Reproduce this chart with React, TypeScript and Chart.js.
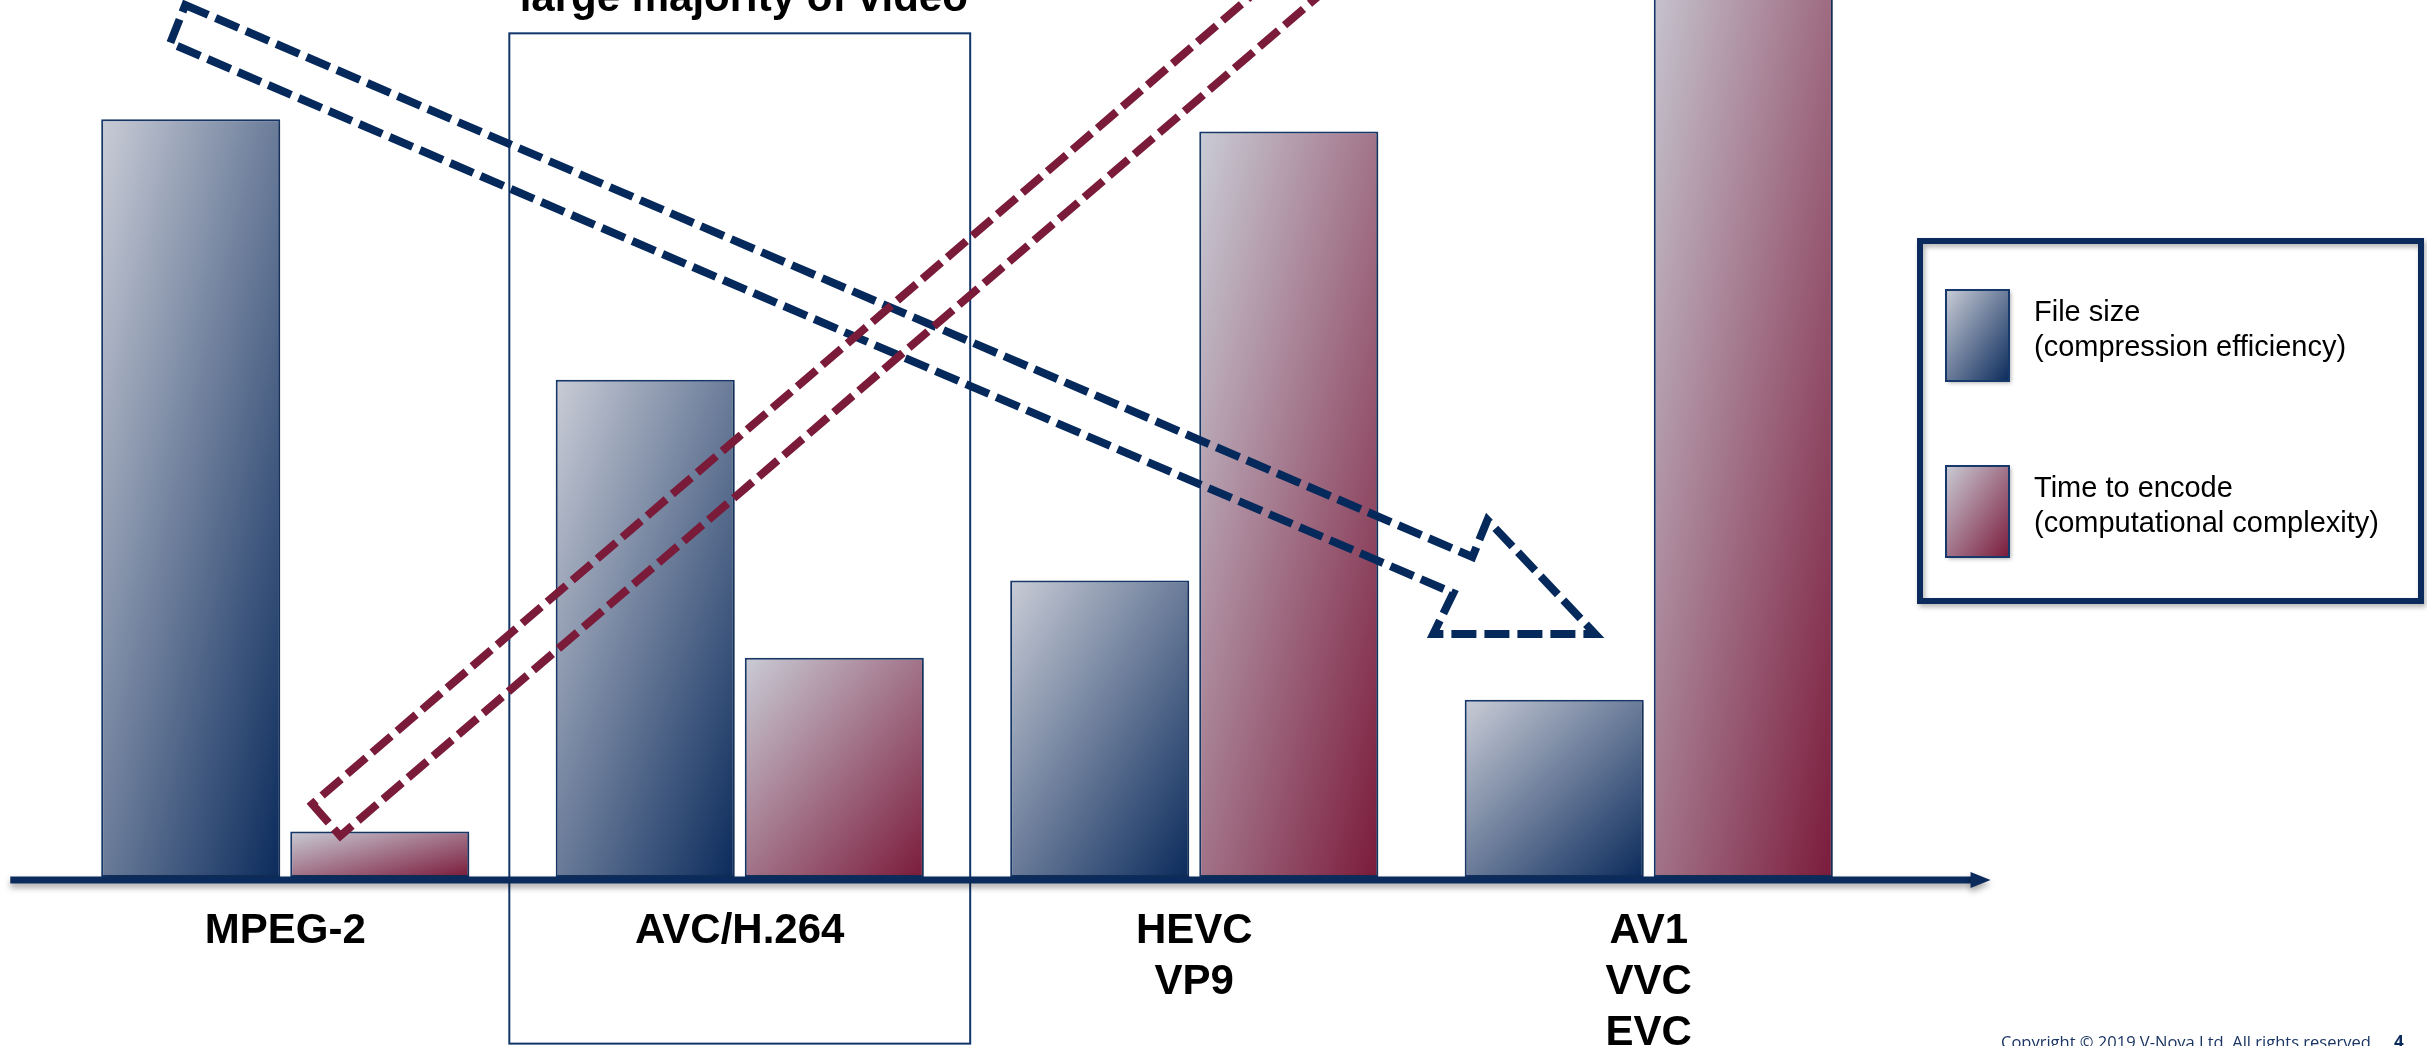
import React, { useEffect, useRef } from 'react';
import { Chart, registerables } from 'chart.js';

Chart.register(...registerables);

const WIDTH = 2427;
const HEIGHT = 1046;
const FONT = "'Liberation Sans', Arial, sans-serif";
const NAVY = '#0b2b5c';
const WINE = '#7a1b3a';

// Codec generations along the axis
const categories: (string | string[])[] = ['MPEG-2', 'AVC/H.264', ['HEVC', 'VP9'], ['AV1', 'VVC', 'EVC']];
// Relative file size (compression efficiency) per generation
const fileSize = [86.4, 56.7, 33.8, 20.2];
// Relative time to encode (computational complexity) per generation
const encodeTime = [5.2, 25.0, 85.0, 112];

const seriesNames = ['File size', 'Time to encode'];
const seriesNotes = ['(compression efficiency)', '(computational complexity)'];
const seriesDark = [NAVY, '#7b1b3b'];
const seriesLight = ['#c9ccd6', '#c9ccd6'];

const highlightText = 'large majority of video';
const copyrightText = 'Copyright \u00a9 2019 V-Nova Ltd. All rights reserved.';
const pageNumber = '4';

// Highlight frame around AVC/H.264: [category index, half width in categories, top value, bottom value]
const highlightFrame = [1, 0.507, 96.2, -19];

// Dashed block arrows, as [category index, value] vertices
const efficiencyArrow: [number, number][] = [
  [-0.22, 99.43],
  [2.612, 36.49],
  [2.645, 40.71],
  [2.882, 27.71],
  [2.526, 27.71],
  [2.57, 32.38],
  [-0.253, 95.1],
];
const complexityArrow: [number, number][] = [
  [0.0594, 8.32],
  [0.121, 4.68],
  [2.417, 106.84],
  [2.268, 106.84],
];

function barGradient(ctx: CanvasRenderingContext2D, left: number, top: number, w: number, h: number, light: string, dark: string) {
  // diagonal gradient that scales with the shape (isolines follow the anti-diagonal)
  const k = (2 * w * h) / (w * w + h * h);
  const g = ctx.createLinearGradient(left, top, left + k * h, top + k * w);
  g.addColorStop(0, light);
  g.addColorStop(1, dark);
  return g;
}

const slidePlugin = {
  id: 'slideDecor',
  beforeDatasetsDraw(chart: any) {
    const ctx = chart.ctx as CanvasRenderingContext2D;
    chart.data.datasets.forEach((_ds: any, di: number) => {
      const meta = chart.getDatasetMeta(di);
      meta.data.forEach((bar: any) => {
        const { x, y, base, width } = bar.getProps(['x', 'y', 'base', 'width'], true);
        const left = x - width / 2;
        const top = Math.min(y, base);
        const h = Math.abs(base - y);
        bar.options.backgroundColor = barGradient(ctx, left, top, width, h, seriesLight[di], seriesDark[di]);
      });
    });
  },
  beforeDatasetDraw(chart: any) {
    const ctx = chart.ctx as CanvasRenderingContext2D;
    ctx.save();
    ctx.shadowColor = 'rgba(0,0,0,0.28)';
    ctx.shadowBlur = 5;
    ctx.shadowOffsetX = 2;
    ctx.shadowOffsetY = 2;
  },
  afterDatasetDraw(chart: any) {
    chart.ctx.restore();
  },
  afterDatasetsDraw(chart: any) {
    const ctx = chart.ctx as CanvasRenderingContext2D;
    const xs = chart.scales.x;
    const ys = chart.scales.y;
    const px = (i: number) => xs.getPixelForValue(i);
    const py = (v: number) => ys.getPixelForValue(v);
    const catW = px(1) - px(0);

    // highlight frame
    const [hc, hw, ht, hb] = highlightFrame;
    ctx.save();
    ctx.strokeStyle = '#12366a';
    ctx.lineWidth = 2;
    ctx.strokeRect(px(hc) - hw * catW, py(ht), 2 * hw * catW, py(hb) - py(ht));
    ctx.restore();

    // text above the frame (continues beyond the top edge)
    ctx.save();
    ctx.fillStyle = '#000';
    ctx.font = `bold 42px ${FONT}`;
    ctx.textAlign = 'center';
    ctx.textBaseline = 'alphabetic';
    ctx.fillText(highlightText, px(hc) + 4, py(98.75));
    ctx.restore();

    // baseline arrow
    const yb = chart.chartArea.bottom + 3;
    const x0 = px(0) - 0.605 * catW;
    const x1 = px(3) + 0.752 * catW;
    ctx.save();
    ctx.shadowColor = 'rgba(0,0,0,0.35)';
    ctx.shadowBlur = 6;
    ctx.shadowOffsetY = 4;
    ctx.fillStyle = NAVY;
    ctx.fillRect(x0, yb - 3.5, x1 - 18 - x0, 7);
    ctx.beginPath();
    ctx.moveTo(x1 - 20, yb - 8);
    ctx.lineTo(x1, yb);
    ctx.lineTo(x1 - 20, yb + 8);
    ctx.closePath();
    ctx.fill();
    ctx.restore();

    // dashed block arrows
    const dashed = (pts: [number, number][], color: string) => {
      ctx.save();
      ctx.strokeStyle = color;
      ctx.lineWidth = 8;
      ctx.setLineDash([25, 8]);
      ctx.lineJoin = 'miter';
      ctx.beginPath();
      pts.forEach(([i, v], k) => {
        if (k === 0) ctx.moveTo(px(i), py(v));
        else ctx.lineTo(px(i), py(v));
      });
      ctx.closePath();
      ctx.stroke();
      ctx.restore();
    };
    dashed(efficiencyArrow, '#06295b');
    dashed(complexityArrow, WINE);
  },
  afterDraw(chart: any) {
    const ctx = chart.ctx as CanvasRenderingContext2D;

    // legend panel
    ctx.save();
    ctx.shadowColor = 'rgba(0,0,0,0.3)';
    ctx.shadowBlur = 5;
    ctx.shadowOffsetX = 2;
    ctx.shadowOffsetY = 3;
    ctx.strokeStyle = NAVY;
    ctx.lineWidth = 6;
    ctx.strokeRect(1920, 241, 501, 360);
    ctx.restore();

    const rows = [290, 466];
    chart.data.datasets.forEach((_ds: any, di: number) => {
      const top = rows[di];
      ctx.save();
      ctx.shadowColor = 'rgba(0,0,0,0.3)';
      ctx.shadowBlur = 4;
      ctx.shadowOffsetX = 2;
      ctx.shadowOffsetY = 2;
      ctx.fillStyle = barGradient(ctx, 1946, top, 63, 91, seriesLight[di], seriesDark[di]);
      ctx.fillRect(1946, top, 63, 91);
      ctx.restore();
      ctx.save();
      ctx.strokeStyle = '#17386a';
      ctx.lineWidth = 2;
      ctx.strokeRect(1946, top, 63, 91);
      ctx.fillStyle = '#000';
      ctx.font = `29px ${FONT}`;
      ctx.textAlign = 'left';
      ctx.textBaseline = 'alphabetic';
      ctx.fillText(seriesNames[di], 2034, top + 31);
      ctx.fillText(seriesNotes[di], 2034, top + 66);
      ctx.restore();
    });

    // footer
    ctx.save();
    ctx.fillStyle = '#1a3563';
    ctx.font = `16.5px 'Open Sans', ${FONT}`;
    ctx.textAlign = 'left';
    ctx.textBaseline = 'alphabetic';
    ctx.fillText(copyrightText, 2001, 1048);
    ctx.font = `bold 17px 'Open Sans', ${FONT}`;
    ctx.fillStyle = NAVY;
    ctx.fillText(pageNumber, 2394, 1048);
    ctx.restore();
  },
};

export default function App() {
  const canvasRef = useRef<HTMLCanvasElement | null>(null);

  useEffect(() => {
    const canvas = canvasRef.current;
    if (!canvas) return;
    const chart = new Chart(canvas, {
      type: 'bar',
      data: {
        labels: categories,
        datasets: [
          {
            label: `${seriesNames[0]} ${seriesNotes[0]}`,
            data: fileSize,
            backgroundColor: () => seriesDark[0],
            borderColor: '#17386a',
            borderWidth: 2,
            borderSkipped: false,
          },
          {
            label: `${seriesNames[1]} ${seriesNotes[1]}`,
            data: encodeTime,
            backgroundColor: () => seriesDark[1],
            borderColor: '#17386a',
            borderWidth: 2,
            borderSkipped: false,
          },
        ],
      },
      options: {
        responsive: false,
        animation: false,
        devicePixelRatio: 1,
        events: [],
        layout: { padding: { left: 58, right: 551, top: 0, bottom: 0 } },
        datasets: { bar: { categoryPercentage: 0.832, barPercentage: 0.947 } },
        plugins: {
          legend: { display: false },
          tooltip: { enabled: false },
          title: { display: false },
        },
        scales: {
          x: {
            offset: true,
            grid: { display: false, drawTicks: false },
            border: { display: false },
            ticks: {
              autoSkip: false,
              maxRotation: 0,
              minRotation: 0,
              padding: 29,
              color: '#000',
              font: { family: FONT, size: 42, weight: 'bold', lineHeight: 1.215 },
            },
            afterFit: (scale: any) => {
              scale.height = 169;
            },
          },
          y: { display: false, min: 0, max: 100 },
        },
      } as any,
      plugins: [slidePlugin],
    });
    return () => chart.destroy();
  }, []);

  return (
    <div style={{ position: 'fixed', left: 0, top: 0, width: WIDTH, height: HEIGHT, background: '#fff', overflow: 'hidden' }}>
      <canvas ref={canvasRef} width={WIDTH} height={HEIGHT} style={{ display: 'block', width: WIDTH, height: HEIGHT }} />
    </div>
  );
}
